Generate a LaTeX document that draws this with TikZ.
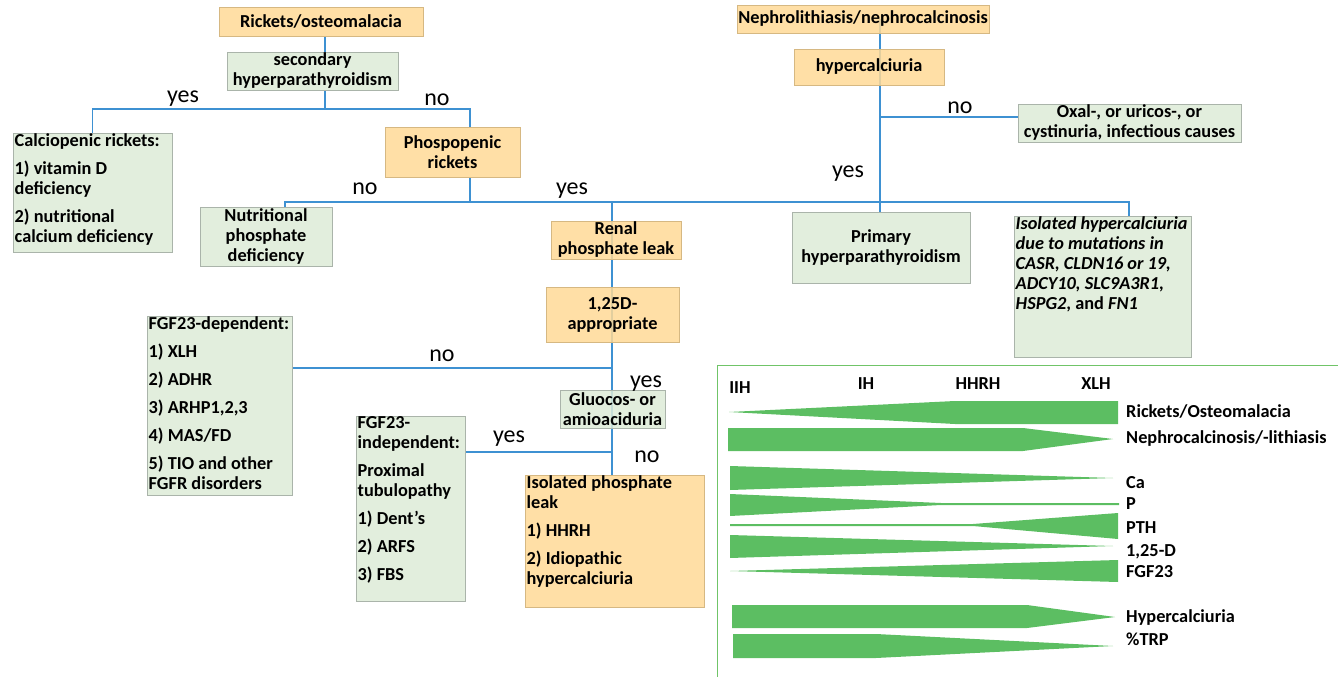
\documentclass[tikz,border=0pt]{standalone}
\usepackage{fontspec}
\setmainfont{Carlito}
\usetikzlibrary{backgrounds}
\definecolor{BoxOrange} {RGB}{255,217,150}
\definecolor{EdgeOrange}{RGB}{214,184,130}
\definecolor{BoxGreen}  {RGB}{221,235,215}
\definecolor{EdgeGreen} {RGB}{170,180,170}
\definecolor{LinkBlue}  {RGB}{62,145,210}
\definecolor{BarGreen}  {RGB}{92,190,98}
\definecolor{PanelGreen}{RGB}{112,196,104}

\newcommand{\boxfont}{\fontsize{18.3}{20}\selectfont\bfseries}
\newcommand{\topbox}[3]{\parbox[c][#2][t]{#1}{\raggedright #3}}

\begin{document}
\begin{tikzpicture}[
  x=1pt, y=-1pt,
  obox/.style   ={rectangle, draw=EdgeOrange, fill=BoxOrange, fill opacity=.85,
                  text opacity=1, font=\boxfont, align=center, inner sep=1pt},
  gbox/.style   ={obox, draw=EdgeGreen, fill=BoxGreen},
  topleft/.style={anchor=north west, inner xsep=1.5pt, inner ysep=0pt},
  link/.style   ={draw=LinkBlue, line width=1.1pt},
  answer/.style ={anchor=base, font=\fontsize{24}{27}\selectfont, inner sep=0pt},
  bar/.style    ={fill=BarGreen},
  barlabel/.style={anchor=base west, font=\boxfont, inner sep=0pt},
  level/.style  ={anchor=base, font=\boxfont, inner sep=0pt}
]
\useasboundingbox (0,0) rectangle (1338,677);

% rickets tree
\node[obox, minimum width=204pt, minimum height=29pt] (rick) at (321,21.5) {Rickets/osteomalacia};
\node[gbox, minimum width=171pt, minimum height=36pt] (sec)  at (312.5,71) {secondary\\hyperparathyroidism};
\node[gbox, topleft] (calc) at (13,133)
  {\topbox{156pt}{119pt}{Calciopenic rickets:\\[8pt] 1) vitamin D\\ deficiency\\[8pt] 2) nutritional\\ calcium deficiency}};
\node[obox, minimum width=135pt, minimum height=50pt] (phos) at (452.5,152) {Phospopenic\\rickets};
\node[gbox, minimum width=132pt, minimum height=59pt] (nutr) at (266,236.5) {Nutritional\\phosphate\\deficiency};
\node[obox, minimum width=130pt, minimum height=36pt] (ren)  at (616,240) {Renal\\phosphate leak};
\node[obox, minimum width=133pt, minimum height=55pt] (app)  at (612.5,314.5) {1,25D-\\appropriate};
\node[gbox, minimum width=105pt, minimum height=38pt] (glu)  at (612.5,409) {Gluocos- or\\amioaciduria};
\node[gbox, topleft] (dep) at (147,316)
  {\topbox{142pt}{179pt}{FGF23-dependent:\\[8pt] 1) XLH\\[8pt] 2) ADHR\\[8pt] 3) ARHP1,2,3\\[8pt] 4) MAS/FD\\[8pt] 5) TIO and other\\ FGFR disorders}};
\node[gbox, topleft] (ind) at (356,416)
  {\topbox{106pt}{185pt}{FGF23-\\ independent:\\[8pt] Proximal\\ tubulopathy\\[8pt] 1) Dent’s\\[8pt] 2) ARFS\\[8pt] 3) FBS}};
\node[obox, topleft] (isoP) at (525,475)
  {\topbox{176pt}{132pt}{Isolated phosphate\\ leak\\[8pt] 1) HHRH\\[8pt] 2) Idiopathic\\ hypercalciuria}};

% stone tree
\node[obox, minimum width=250pt, minimum height=28pt] (neph) at (863,19) {Nephrolithiasis/nephrocalcinosis};
\node[obox, minimum width=150pt, minimum height=36pt] (hyp)  at (869,67) {hypercalciuria};
\node[gbox, minimum width=223pt, minimum height=38pt] (oxal) at (1129.5,123) {Oxal-, or uricos-, or\\cystinuria, infectious causes};
\node[gbox, minimum width=178pt, minimum height=71pt] (prim) at (881,247.5) {Primary\\hyperparathyroidism};
\node[gbox, topleft] (isoH) at (1014,216)
  {\topbox{174pt}{141pt}{\itshape Isolated hypercalciuria\\ due to mutations in\\ CASR, CLDN16 or 19,\\ ADCY10, SLC9A3R1,\\ HSPG2\upshape, and \itshape FN1}};

% branch points
\coordinate (rj)   at (325,109);
\coordinate (phin) at (470,127);
\coordinate (pj)   at (470,202);
\coordinate (nutin) at (285,207);
\coordinate (renx) at (612,202);
\coordinate (ax)   at (612,368);
\coordinate (gx)   at (612,452);
\coordinate (hx)   at (880,117);
\coordinate (hj)   at (880,202);
\coordinate (ihin) at (1129,216);

\begin{scope}[on background layer]
\draw[link] (rick.south -| rj) -- (sec.north -| rj);
\draw[link] (sec.south -| rj) -- (rj);
\draw[link] (calc.north) |- (rj) -| (phin);
\draw[link] (phos.south -| pj) -- (pj);
\draw[link] (nutin) |- (hj) -| (ihin);
\draw[link] (renx) -- (isoP.north -| renx);
\draw[link] (dep.east |- ax) -- (ax);
\draw[link] (ind.east |- gx) -- (gx);
\draw[link] (neph.center -| hx) -- (prim.north -| hx);
\draw[link] (hx) -- (oxal.west |- hx);
\end{scope}

% yes / no
\node[answer] (yes1) at (183,102) {yes};
\node[answer] (no1)  at (437,105) {no};
\node[answer] (no2)  at (365,194) {no};
\node[answer] (yes2) at (572,194) {yes};
\node[answer] (no3)  at (442,361) {no};
\node[answer] (yes3) at (646,387) {yes};
\node[answer] (yes4) at (509,442) {yes};
\node[answer] (no4)  at (647,462) {no};
\node[answer] (no5)  at (960,113) {no};
\node[answer] (yes5) at (848,177) {yes};

% spectrum panel
\draw[PanelGreen, line width=1pt] (717,677) -- (717,365) -- (1338,365);
\node[level] (iih)  at (740,393)  {IIH};
\node[level] (ih)   at (866,389)  {IH};
\node[level] (hhrh) at (978,389)  {HHRH};
\node[level] (xlh)  at (1096,389) {XLH};

\fill[bar] (729,412) -- (955,401) -- (1118,401) -- (1118,424) -- (955,424) -- cycle;
\fill[bar] (728,428) -- (1023,428) -- (1113,439) -- (1023,451) -- (728,451) -- cycle;
\fill[bar] (730,466) -- (1113,478) -- (730,490) -- cycle;
\fill[bar] (730,494) -- (941,503) -- (1119,503) -- (1119,505) -- (941,505) -- (730,516) -- cycle;
\fill[bar] (730,524) -- (973,524) -- (1118,513) -- (1118,539) -- (973,526) -- (730,526) -- cycle;
\fill[bar] (730,535) -- (1113,546) -- (730,558) -- cycle;
\fill[bar] (730,571) -- (1118,560) -- (1118,582) -- cycle;
\fill[bar] (732,605) -- (1027,605) -- (1115,617) -- (1027,628) -- (732,628) -- cycle;
\fill[bar] (733,634) -- (876,634) -- (1113,646) -- (876,658) -- (733,658) -- cycle;

\node[barlabel] (l1) at (1126,417) {Rickets/Osteomalacia};
\node[barlabel] (l2) at (1126,443) {Nephrocalcinosis/-lithiasis};
\node[barlabel] (l3) at (1126,488) {Ca};
\node[barlabel] (l4) at (1126,509) {P};
\node[barlabel] (l5) at (1126,533) {PTH};
\node[barlabel] (l6) at (1126,556) {1,25-D};
\node[barlabel] (l7) at (1126,577) {FGF23};
\node[barlabel] (l8) at (1126,622) {Hypercalciuria};
\node[barlabel] (l9) at (1126,645) {\%TRP};
\end{tikzpicture}
\end{document}
